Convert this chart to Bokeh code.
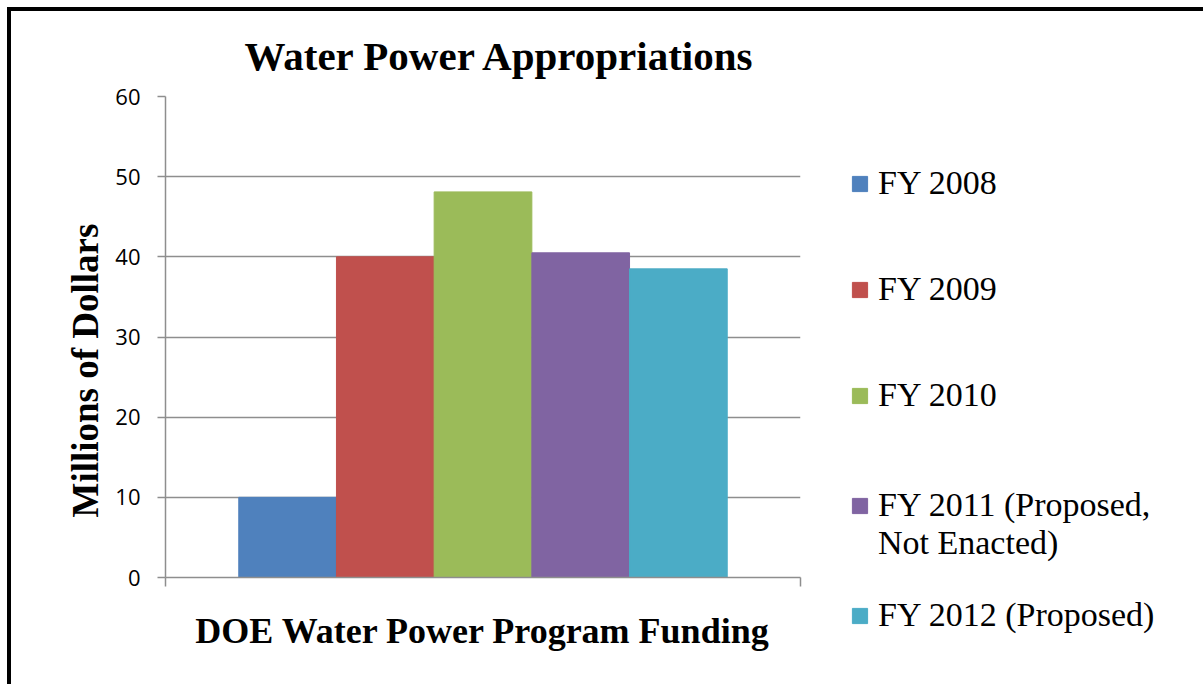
import math
from bokeh.plotting import figure
from bokeh.models import Range1d, FixedTicker, Legend, LegendItem, Title
from bokeh.embed import file_html
from bokeh.resources import INLINE

# ---- data ----
title_text = "Water Power Appropriations"
category_label = "DOE Water Power Program Funding"
y_axis_label = "Millions of  Dollars"
series_labels = ["FY 2008", "FY 2009", "FY 2010",
                 "FY 2011 (Proposed,\nNot Enacted)", "FY 2012 (Proposed)"]
series_values = [10, 40, 48.1, 40.5, 38.5]
series_colors = ["#4F81BD", "#C0504D", "#9BBB59", "#8064A2", "#4BACC6"]
y_ticks = [0, 10, 20, 30, 40, 50, 60]

# ---- layout ----
GAP = 1.5  # Excel gap width 150% of bar width, split on both sides
n = len(series_values)
bar_w = 1.0 / (n + GAP)
xs = [(GAP / 2 + i + 0.5) * bar_w for i in range(n)]


def legend_text(label):
    # a wrapped entry gets a blank leading row so that its swatch lines up
    # with its first row of text
    lines = label.split("\n")
    if len(lines) > 1:
        lines = ["\u00a0"] + lines
    return "\n".join(lines)


SERIF = "Liberation Serif"
SANS = "Open Sans"
GRID = "#8E8E8E"

p = figure(frame_width=635, frame_height=481,
           x_range=Range1d(0, 1), y_range=Range1d(0, 60),
           output_backend="svg", toolbar_location=None,
           min_border_left=154, min_border_right=0,
           min_border_top=85, min_border_bottom=107)
p.styles = {"border-top": "4px solid black", "border-left": "4px solid black",
            "margin-top": "7px", "margin-left": "7px"}
p.outline_line_color = None
p.background_fill_color = "white"
p.border_fill_color = "white"

p.title.text = title_text
p.title.align = "left"
p.title.offset = 79
p.title.standoff = 35
p.title.text_font = SERIF
p.title.text_font_style = "bold"
p.title.text_font_size = "41px"
p.title.text_color = "black"

p.add_layout(Title(text=y_axis_label, align="left", offset=60, standoff=14,
                   text_font=SERIF, text_font_style="bold",
                   text_font_size="37px", text_color="black"), "left")

p.xgrid.visible = False
p.ygrid.ticker = FixedTicker(ticks=y_ticks)
p.ygrid.grid_line_color = GRID
p.ygrid.grid_line_width = 1.5

ya = p.yaxis[0]
ya.ticker = FixedTicker(ticks=y_ticks)
ya.axis_line_color = GRID
ya.axis_line_width = 1.5
ya.major_tick_line_color = GRID
ya.major_tick_line_width = 1.5
ya.major_tick_out = 8
ya.major_tick_in = 0
ya.minor_tick_line_color = None
ya.major_label_text_font = SANS
ya.major_label_text_font_size = "22px"
ya.major_label_text_color = "black"
ya.major_label_standoff = 17

xa = p.xaxis[0]
xa.ticker = FixedTicker(ticks=[0, 1])
xa.major_label_overrides = {0: "", 1: ""}
xa.axis_line_color = GRID
xa.axis_line_width = 1.5
xa.major_tick_line_color = GRID
xa.major_tick_line_width = 1.5
xa.major_tick_out = 9
xa.major_tick_in = 0
xa.minor_tick_line_color = None
xa.axis_label = category_label
xa.axis_label_text_font = SERIF
xa.axis_label_text_font_style = "bold"
xa.axis_label_text_font_size = "36px"
xa.axis_label_text_color = "black"
xa.axis_label_standoff = 24

items = []
for i in range(n):
    r = p.vbar(x=[xs[i]], top=[series_values[i]], bottom=0, width=bar_w,
               fill_color=series_colors[i], line_color=series_colors[i], line_width=1)
    items.append(LegendItem(label=legend_text(series_labels[i]), renderers=[r]))

legend = Legend(items=items, location=(50, -91), orientation="vertical",
                glyph_width=19, glyph_height=19, label_standoff=9, spacing=0,
                label_height=106,
                padding=0, margin=0, border_line_color=None,
                background_fill_alpha=0,
                label_text_font=SERIF, label_text_font_size="34px",
                label_text_color="black")
p.add_layout(legend, "right")

open("out.html", "w").write(file_html(p, INLINE))
